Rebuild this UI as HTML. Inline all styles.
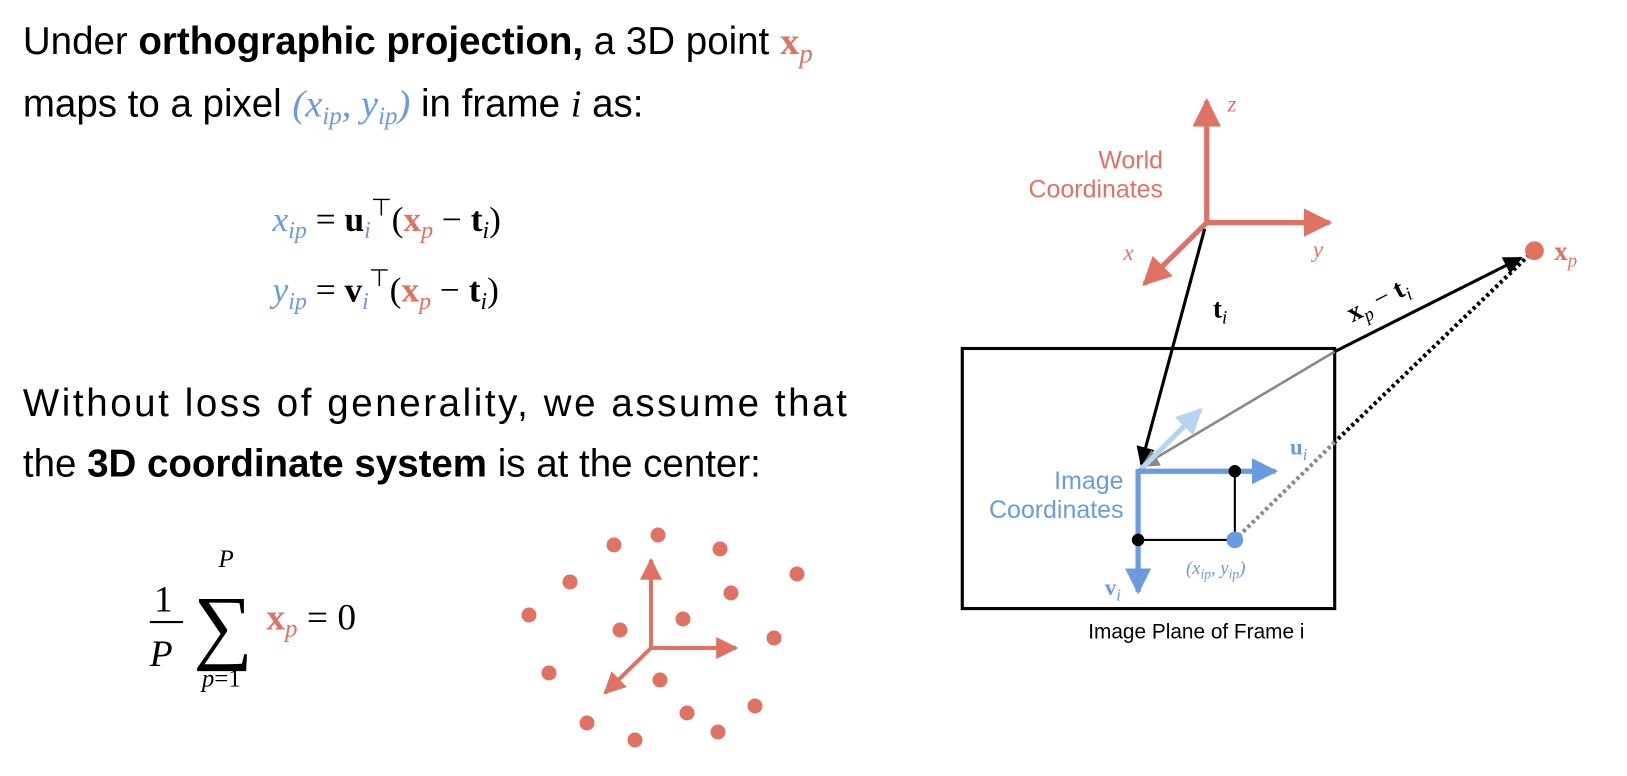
<!DOCTYPE html>
<html><head><meta charset="utf-8"><style>
html,body{margin:0;padding:0;background:#fff;}
svg{display:block;}
.t{font-family:"Liberation Sans",sans-serif;font-weight:300;}
.m{font-family:"Liberation Serif",serif;}
</style></head><body>
<svg width="1627" height="776" viewBox="0 0 1627 776">
<defs>
<marker id="ar" viewBox="0 0 10 10" refX="9" refY="5" markerWidth="5.5" markerHeight="5.5" orient="auto"><path d="M0,0L10,5L0,10z" fill="#e07263"/></marker>
<marker id="ab" viewBox="0 0 10 10" refX="9" refY="5" markerWidth="5" markerHeight="5" orient="auto"><path d="M0,0L10,5L0,10z" fill="#6a9be0"/></marker>
<marker id="alb" viewBox="0 0 10 10" refX="9" refY="5" markerWidth="5" markerHeight="5" orient="auto"><path d="M0,0L10,5L0,10z" fill="#b8d2f0"/></marker>
<marker id="ak" viewBox="0 0 10 10" refX="9" refY="5" markerWidth="6" markerHeight="6" orient="auto"><path d="M0,0L10,5L0,10z" fill="#000"/></marker>
<marker id="ag" viewBox="0 0 10 10" refX="9" refY="5" markerWidth="7" markerHeight="7" orient="auto"><path d="M0,0L10,5L0,10z" fill="#888"/></marker>
</defs>

<g fill="#e07263">
<circle cx="658" cy="535" r="7.5"/><circle cx="614" cy="545" r="7.5"/><circle cx="720" cy="549" r="7.5"/><circle cx="797" cy="574" r="7.5"/><circle cx="570" cy="582" r="7.5"/><circle cx="731" cy="593" r="7.5"/><circle cx="529" cy="615" r="7.5"/><circle cx="683" cy="619" r="7.5"/><circle cx="620" cy="630" r="7.5"/><circle cx="774" cy="638" r="7.5"/><circle cx="549" cy="673" r="7.5"/><circle cx="660" cy="680" r="7.5"/><circle cx="687" cy="713" r="7.5"/><circle cx="755" cy="706" r="7.5"/><circle cx="587" cy="723" r="7.5"/><circle cx="718" cy="732" r="7.5"/><circle cx="635" cy="740" r="7.5"/>
<g stroke="#e07263" stroke-width="4" fill="none">
<line x1="651" y1="648" x2="651" y2="560" marker-end="url(#ar)"/>
<line x1="651" y1="648" x2="736" y2="648" marker-end="url(#ar)"/>
<line x1="651" y1="648" x2="605" y2="693" marker-end="url(#ar)"/>
</g>
</g>

<g transform="scale(1.0403)">
<g class="t" font-size="37">
<text x="22" y="52">Under <tspan font-weight="bold">orthographic projection,</tspan> a 3D point <tspan class="m" font-weight="bold" fill="#e07263">x</tspan><tspan class="m" font-style="italic" fill="#e07263" font-size="26" dy="8">p</tspan></text>
<text x="22" y="112">maps to a pixel <tspan class="m" font-style="italic" fill="#6a9be0">(x<tspan font-size="24" dy="7">ip</tspan><tspan dy="-7">, y</tspan><tspan font-size="24" dy="7">ip</tspan><tspan dy="-7">)</tspan></tspan> in frame <tspan class="m" font-style="italic">i</tspan> as:</text>
</g>
<g class="m" font-size="34">
<text x="262" y="222"><tspan font-style="italic" fill="#6a9be0">x<tspan font-size="23" dy="7">ip</tspan></tspan><tspan dy="-7"> = </tspan><tspan font-weight="bold">u</tspan><tspan font-style="italic" font-size="23" dy="7" fill="#6a9be0">i</tspan><tspan font-size="23" dy="-22">⊤</tspan><tspan dy="15">(</tspan><tspan font-weight="bold" fill="#e07263">x</tspan><tspan font-style="italic" font-size="23" dy="7" fill="#e07263">p</tspan><tspan dy="-7"> − </tspan><tspan font-weight="bold">t</tspan><tspan font-style="italic" font-size="23" dy="7">i</tspan><tspan dy="-7">)</tspan></text>
<text x="262" y="290"><tspan font-style="italic" fill="#6a9be0">y<tspan font-size="23" dy="7">ip</tspan></tspan><tspan dy="-7"> = </tspan><tspan font-weight="bold">v</tspan><tspan font-style="italic" font-size="23" dy="7" fill="#6a9be0">i</tspan><tspan font-size="23" dy="-22">⊤</tspan><tspan dy="15">(</tspan><tspan font-weight="bold" fill="#e07263">x</tspan><tspan font-style="italic" font-size="23" dy="7" fill="#e07263">p</tspan><tspan dy="-7"> − </tspan><tspan font-weight="bold">t</tspan><tspan font-style="italic" font-size="23" dy="7">i</tspan><tspan dy="-7">)</tspan></text>
</g>
<g class="t" font-size="37">
<text x="22" y="400" textLength="792">Without loss of generality, we assume that</text>
<text x="22" y="458">the <tspan font-weight="bold">3D coordinate system</tspan> is at the center:</text>
</g>
<g class="m" font-size="36">
<text x="148" y="588">1</text>
<line x1="144" y1="598" x2="176" y2="598" stroke="#000" stroke-width="2"/>
<text x="144" y="640" font-style="italic">P</text>
<text x="210" y="545" font-size="24" font-style="italic">P</text>
<text x="186" y="628" font-size="80">∑</text>
<text x="194" y="660" font-size="24"><tspan font-style="italic">p</tspan>=1</text>
<text x="256" y="605"><tspan font-weight="bold" fill="#e07263">x</tspan><tspan font-style="italic" font-size="24" dy="7" fill="#e07263">p</tspan><tspan dy="-7"> = 0</tspan></text>
</g>

<g>
<g stroke="#e07263" stroke-width="5" fill="none">
<line x1="1160" y1="214" x2="1160" y2="97" marker-end="url(#ar)"/>
<line x1="1160" y1="214" x2="1278" y2="214" marker-end="url(#ar)"/>
<line x1="1160" y1="214" x2="1100" y2="273" marker-end="url(#ar)"/>
</g>
<text class="m" font-style="italic" fill="#e07263" font-size="22" x="1180" y="107">z</text>
<text class="m" font-style="italic" fill="#e07263" font-size="22" x="1262" y="247">y</text>
<text class="m" font-style="italic" fill="#e07263" font-size="22" x="1080" y="250">x</text>
<text class="t" fill="#e07263" font-size="24" text-anchor="end" x="1118" y="162">World</text>
<text class="t" fill="#e07263" font-size="24" text-anchor="end" x="1118" y="190">Coordinates</text>
</g>

<rect x="925" y="335" width="358" height="250" fill="none" stroke="#000" stroke-width="3"/>
<text class="t" font-size="20" x="1150" y="614" text-anchor="middle">Image Plane of Frame i</text>

<g fill="none">
<line x1="1158" y1="220" x2="1097" y2="446" stroke="#000" stroke-width="3" marker-end="url(#ak)"/>
<line x1="1283" y1="338" x2="1098" y2="448" stroke="#888" stroke-width="2.5" marker-end="url(#ag)"/>
<line x1="1283" y1="338" x2="1462" y2="248" stroke="#000" stroke-width="3" marker-end="url(#ak)"/>
<line x1="1470" y1="245" x2="1283" y2="425" stroke="#000" stroke-width="4" stroke-dasharray="3,3"/>
<line x1="1283" y1="425" x2="1190" y2="516" stroke="#888" stroke-width="4" stroke-dasharray="3,3"/>
</g>
<text class="m" font-size="26" x="1166" y="305"><tspan font-weight="bold">t</tspan><tspan font-style="italic" font-size="18" dy="6">i</tspan></text>
<text class="m" font-size="26" transform="translate(1300,310) rotate(-27)"><tspan font-weight="bold">x</tspan><tspan font-style="italic" font-size="18" dy="6">p</tspan><tspan dy="-6"> − </tspan><tspan font-weight="bold">t</tspan><tspan font-style="italic" font-size="18" dy="6">i</tspan></text>
<circle cx="1475" cy="241" r="9" fill="#e07263"/>
<text class="m" font-size="26" x="1494" y="250" fill="#e07263"><tspan font-weight="bold">x</tspan><tspan font-style="italic" font-size="18" dy="6">p</tspan></text>

<g>
<line x1="1095" y1="453" x2="1154" y2="394" stroke="#b8d2f0" stroke-width="5" marker-end="url(#alb)"/>
<line x1="1187" y1="453" x2="1187" y2="519" stroke="#000" stroke-width="2"/>
<line x1="1094" y1="519" x2="1187" y2="519" stroke="#000" stroke-width="2"/>
<line x1="1094" y1="453" x2="1226" y2="453" stroke="#6a9be0" stroke-width="5" marker-end="url(#ab)"/>
<line x1="1094" y1="451" x2="1094" y2="569" stroke="#6a9be0" stroke-width="5" marker-end="url(#ab)"/>
<circle cx="1187" cy="453" r="6" fill="#000"/>
<circle cx="1094" cy="519" r="6" fill="#000"/>
<circle cx="1187" cy="519" r="8" fill="#6a9be0"/>
<text class="m" font-size="22" x="1240" y="437" fill="#6a9be0"><tspan font-weight="bold">u</tspan><tspan font-style="italic" font-size="16" dy="5">i</tspan></text>
<text class="m" font-size="22" x="1062" y="572" fill="#6a9be0"><tspan font-weight="bold">v</tspan><tspan font-style="italic" font-size="16" dy="5">i</tspan></text>
<text class="m" font-style="italic" font-size="18" x="1140" y="552" fill="#6a9be0">(x<tspan font-size="13" dy="4">ip</tspan><tspan dy="-4">, y</tspan><tspan font-size="13" dy="4">ip</tspan><tspan dy="-4">)</tspan></text>
<text class="t" fill="#6a9be0" font-size="24" text-anchor="end" x="1080" y="470">Image</text>
<text class="t" fill="#6a9be0" font-size="24" text-anchor="end" x="1080" y="498">Coordinates</text>
</g>
</g>
</svg>
</body></html>
